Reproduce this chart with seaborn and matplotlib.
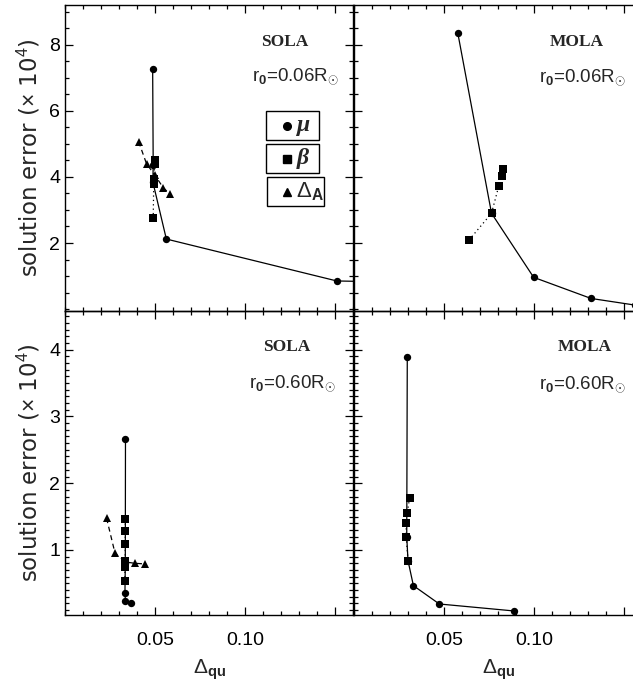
import numpy as np
import pandas as pd
import matplotlib
matplotlib.use("Agg")
import matplotlib.pyplot as plt
from matplotlib.patches import Rectangle
from matplotlib.ticker import MultipleLocator
import seaborn as sns

# ---------------- data ----------------
# SOLA, r0 = 0.06 Rsun
sola06_mu_x = [0.0487, 0.0490, 0.0488, 0.0563, 0.1510, 0.2000]
sola06_mu_y = [7.27, 4.35, 3.85, 2.12, 0.85, 0.80]
sola06_beta_x = [0.0500, 0.0498, 0.0495, 0.0493, 0.0490]
sola06_beta_y = [4.50, 4.38, 3.93, 3.80, 2.75]
sola06_da_x = [0.0409, 0.0453, 0.0500, 0.0545, 0.0583]
sola06_da_y = [5.07, 4.40, 4.05, 3.68, 3.48]

# MOLA, r0 = 0.06 Rsun
mola06_mu_x = [0.0577, 0.0764, 0.0998, 0.1317, 0.1560, 0.1900]
mola06_mu_y = [8.35, 2.90, 0.96, 0.32, 0.12, 0.05]
mola06_beta_x = [0.0639, 0.0764, 0.0805, 0.0820, 0.0830]
mola06_beta_y = [2.09, 2.90, 3.74, 4.03, 4.23]

# SOLA, r0 = 0.60 Rsun
sola60_mu_x = [0.0336, 0.0335, 0.0333, 0.0336, 0.0367]
sola60_mu_y = [2.66, 0.80, 0.35, 0.235, 0.20]
sola60_beta_x = [0.0335, 0.0335, 0.0335, 0.0334, 0.0333, 0.0333]
sola60_beta_y = [1.46, 1.29, 1.09, 0.835, 0.75, 0.535]
sola60_da_x = [0.0231, 0.0278, 0.0335, 0.0387, 0.0445]
sola60_da_y = [1.475, 0.95, 0.82, 0.80, 0.79]

# MOLA, r0 = 0.60 Rsun
mola60_mu_x = [0.0296, 0.0293, 0.0300, 0.0330, 0.0474, 0.0891]
mola60_mu_y = [3.89, 1.20, 0.84, 0.465, 0.19, 0.085]
mola60_beta_x = [0.0309, 0.0296, 0.0290, 0.0290, 0.0300]
mola60_beta_y = [1.78, 1.56, 1.40, 1.20, 0.84]

x_ticks = [0.05, 0.10, 0.15]
x_ticklabels = ["0.05", "0.10", ""]
top_yticks = [2, 4, 6, 8]
bot_yticks = [1, 2, 3, 4]

# ---------------- style ----------------
sns.set_style("ticks")
plt.rcParams["font.family"] = ["Liberation Sans", "DejaVu Sans"]
plt.rcParams["mathtext.fontset"] = "custom"
plt.rcParams["mathtext.rm"] = "Liberation Sans"
plt.rcParams["mathtext.it"] = "Liberation Sans:italic"
plt.rcParams["mathtext.bf"] = "Liberation Sans:bold"

W, H = 633, 682
fig = plt.figure(figsize=(W / 100, H / 100), dpi=100)
fig.patch.set_facecolor("white")


def add_axes_px(x0, y0, x1, y1):
    return fig.add_axes([x0 / W, 1 - y1 / H, (x1 - x0) / W, (y1 - y0) / H])


ax_tl = add_axes_px(65, 5, 353, 311)
ax_tr = add_axes_px(354, 5, 642, 311)
ax_bl = add_axes_px(65, 311, 353, 615)
ax_br = add_axes_px(354, 311, 642, 615)

LW = 0.9


def series(ax, xs, ys, marker, ms, ls, z):
    df = pd.DataFrame({"x": xs, "y": ys})
    sns.lineplot(data=df, x="x", y="y", ax=ax, sort=False, estimator=None,
                 color="black", lw=LW, marker=marker, markersize=ms,
                 markeredgewidth=0, markerfacecolor="black", linestyle=ls,
                 zorder=z, clip_on=True)


DASH = (0, (4, 3))
DOT = (0, (1, 2.5))

series(ax_tl, sola06_mu_x, sola06_mu_y, "o", 5.3, "-", 3)
series(ax_tl, sola06_beta_x, sola06_beta_y, "s", 5.3, DOT, 4)
series(ax_tl, sola06_da_x, sola06_da_y, "^", 5.8, DASH, 5)

series(ax_tr, mola06_mu_x, mola06_mu_y, "o", 5.3, "-", 3)
series(ax_tr, mola06_beta_x, mola06_beta_y, "s", 5.3, DOT, 4)

series(ax_bl, sola60_mu_x, sola60_mu_y, "o", 5.3, "-", 3)
series(ax_bl, sola60_beta_x, sola60_beta_y, "s", 5.3, DOT, 4)
series(ax_bl, sola60_da_x, sola60_da_y, "^", 5.8, DASH, 5)

series(ax_br, mola60_mu_x, mola60_mu_y, "o", 5.3, "-", 3)
series(ax_br, mola60_beta_x, mola60_beta_y, "s", 5.3, DOT, 4)

for ax in [ax_tl, ax_tr, ax_bl, ax_br]:
    ax.set_xlim(0, 0.16)
    ax.set_xticks(x_ticks)
    ax.xaxis.set_minor_locator(MultipleLocator(0.01))
    ax.tick_params(which="both", direction="in", top=True, right=True,
                   bottom=True, left=True, labelsize=14, colors="black",
                   width=0.9)
    ax.tick_params(which="major", length=6)
    ax.tick_params(which="minor", length=3)
    ax.tick_params(axis="x", which="major", pad=12)
    for s in ax.spines.values():
        s.set_linewidth(1.0)
        s.set_color("black")
        s.set_visible(True)
    ax.set_xlabel("")
    ax.set_ylabel("")
    ax.set_facecolor("none")

for ax in [ax_tl, ax_tr]:
    ax.set_ylim(-0.06, 9.21)
    ax.set_yticks(top_yticks)
    ax.yaxis.set_minor_locator(MultipleLocator(0.5))
    ax.tick_params(labelbottom=False)
for ax in [ax_bl, ax_br]:
    ax.set_ylim(0.025, 4.58)
    ax.set_yticks(bot_yticks)
    ax.yaxis.set_minor_locator(MultipleLocator(0.1))
    ax.set_xticklabels(x_ticklabels)
    ax.set_xlabel(r"$\Delta_{\mathbf{qu}}$", fontsize=15, labelpad=6)
for ax in [ax_tr, ax_br]:
    ax.tick_params(labelleft=False)
for ax in [ax_tl, ax_bl]:
    ax.set_ylabel(r"solution error ($\times$ 10$^4$)", fontsize=16.5,
                  labelpad=5, family=["DejaVu Sans"])

# panel annotations
serif = ["Liberation Serif", "DejaVu Serif"]


def ptext(px, py, s, **kw):
    fig.text(px / W, 1 - py / H, s, ha="center", va="center", **kw)


r06 = r"r$_\mathbf{0}$=0.06R$_{\odot}$"
r60 = r"r$_\mathbf{0}$=0.60R$_{\odot}$"
ptext(285, 42, "SOLA", family=serif, fontweight="bold", fontsize=12.5)
ptext(295, 76, r06, fontsize=13.5)
ptext(577, 42, "MOLA", family=serif, fontweight="bold", fontsize=12.5)
ptext(582, 77, r06, fontsize=13.5)
ptext(287, 347, "SOLA", family=serif, fontweight="bold", fontsize=12.5)
ptext(292, 383, r60, fontsize=13.5)
ptext(585, 347, "MOLA", family=serif, fontweight="bold", fontsize=12.5)
ptext(582, 384, r60, fontsize=13.5)

# legend boxes (three separate boxes)
legend_items = [("o", "\u03bc", (266, 111, 319, 140)),
                ("s", "\u03b2", (266, 144, 319, 173)),
                ("^", r"$\Delta_\mathbf{A}$", (267, 177, 324, 206))]
for mk, lab, (x0, y0, x1, y1) in legend_items:
    fig.patches.append(Rectangle((x0 / W, 1 - y1 / H), (x1 - x0) / W,
                                 (y1 - y0) / H, transform=fig.transFigure,
                                 fill=True, facecolor="white",
                                 edgecolor="black", lw=1.0, zorder=10))
    cy = (y0 + y1) / 2
    fig.lines.append(plt.Line2D([287 / W], [1 - cy / H], marker=mk,
                                markersize=5.5, color="black", lw=0,
                                transform=fig.transFigure, zorder=11))
    if lab.startswith("$"):
        fig.text(296 / W, 1 - cy / H, lab, fontsize=16, ha="left",
                 va="center", zorder=11)
    else:
        fig.text(297 / W, 1 - cy / H, lab, fontsize=17, ha="left",
                 va="center", zorder=11, family=serif, style="italic",
                 fontweight="bold")

fig.savefig("out.png", dpi=100, facecolor="white")
